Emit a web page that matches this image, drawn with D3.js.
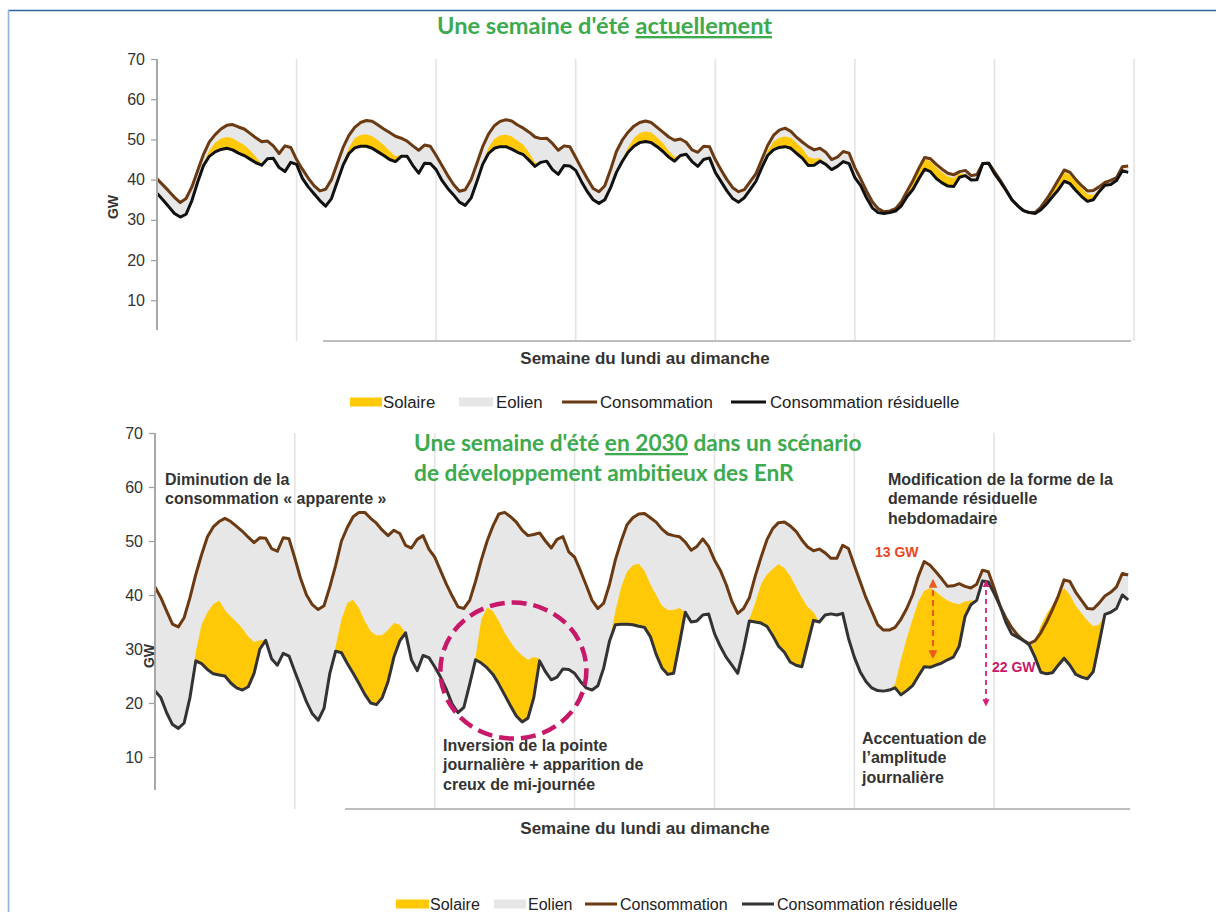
<!DOCTYPE html>
<html><head><meta charset="utf-8">
<script src="https://cdn.jsdelivr.net/npm/d3@7"></script>
<style>body{margin:0;background:#fff}svg{display:block}</style>
</head><body>
<script>
// ---------- DATA (GW, hourly, Monday 0h -> Sunday 23h) ----------
const days = ["Lundi","Mardi","Mercredi","Jeudi","Vendredi","Samedi","Dimanche"];
const yTicks = [10,20,30,40,50,60,70];
const legendLabels = ["Solaire","Eolien","Consommation","Consommation résiduelle"];

// Top chart : une semaine d'été actuellement
const nowConsommation = [
 40.2,38.7,37.2,35.6,34.3,35.3,38.2,42.3,46.3,49.4,51.2,52.6,53.5,53.7,53.1,52.6,51.5,50.4,49.4,49.6,48.4,46.5,48.4,48.0,
 45.0,42.6,40.4,38.5,37.2,37.6,40.0,44.0,48.0,51.0,53.0,54.2,54.7,54.5,53.6,52.6,51.7,50.8,50.3,49.6,48.4,47.3,48.6,48.3,
 46.0,43.5,41.0,38.8,37.1,37.5,40.0,44.0,48.2,51.3,53.4,54.5,54.9,54.6,53.6,52.8,51.8,50.6,50.2,50.3,49.0,47.3,48.4,48.2,
 45.5,42.8,40.2,37.8,37.0,38.5,42.5,47.0,49.8,51.8,53.3,54.2,54.6,54.2,53.0,51.8,50.6,49.8,50.1,49.3,47.4,46.8,48.3,48.2,
 45.0,42.4,40.0,38.0,37.0,37.5,39.5,41.5,45.0,48.5,51.0,52.3,52.8,52.0,50.5,49.3,48.2,47.4,47.8,46.8,45.0,45.6,47.0,46.6,
 43.0,40.2,37.2,34.5,32.8,32.0,32.2,32.8,34.5,37.2,39.8,42.8,45.5,45.2,43.8,42.6,41.6,41.2,42.0,42.3,41.0,41.3,44.0,44.1,
 42.0,39.8,37.5,35.0,33.5,32.3,31.8,31.8,33.2,35.2,37.5,40.0,42.4,41.8,40.0,38.5,37.2,37.3,38.2,39.3,39.8,40.5,43.2,43.4];
const nowResiduelle = [
 36.6,35.0,33.3,31.6,30.7,31.4,34.8,39.4,43.5,45.8,46.9,47.5,47.8,47.4,46.6,46.0,45.1,44.2,43.6,45.2,45.3,43.0,42.0,44.3,
 43.8,40.3,38.2,36.5,34.8,33.4,35.3,39.5,43.6,46.5,47.9,48.3,48.3,47.8,46.9,46.0,45.0,44.5,45.8,45.8,43.5,41.6,44.1,44.0,
 42.5,39.8,37.8,36.2,34.4,33.6,35.4,39.5,43.8,46.5,47.8,48.2,48.2,47.6,46.8,46.2,44.8,43.3,44.3,44.6,42.5,41.3,43.5,43.4,
 42.3,39.5,37.0,35.0,34.1,35.0,38.0,41.8,44.5,46.8,48.3,49.2,49.5,49.2,48.2,47.0,45.6,44.6,46.0,46.3,44.5,43.3,45.0,45.4,
 41.8,39.5,37.2,35.3,34.4,35.5,37.5,39.6,43.0,46.0,47.4,48.0,48.2,47.8,46.5,45.3,43.5,43.6,44.6,43.8,42.5,43.3,44.5,44.0,
 40.5,38.5,35.5,33.0,31.8,31.6,31.8,32.2,33.5,35.8,37.6,40.2,42.6,42.0,40.3,39.2,38.4,38.3,40.6,41.0,39.9,40.0,44.0,44.1,
 41.5,39.5,37.3,35.0,33.5,32.3,31.8,31.6,32.5,34.0,35.8,37.5,39.6,39.0,37.3,35.8,34.6,35.0,37.0,38.6,38.8,39.8,42.2,41.8];
const nowSolaire = [
 0,0,0,0,0,0,0,0,0.5,1.5,2.3,2.7,2.8,2.9,2.8,2.6,2.2,1.4,0.4,0,0,0,0,0,
 0,0,0,0,0,0,0,0,0.5,1.5,2.4,2.8,3.0,3.0,2.9,2.6,2.1,1.3,0.3,0,0,0,0,0,
 0,0,0,0,0,0,0,0,0.5,1.5,2.3,2.8,3.0,3.1,2.9,2.5,1.9,0.9,0,0,0,0,0,0,
 0,0,0,0,0,0,0,0,0.4,1.2,2.0,2.4,2.5,2.5,2.3,2.1,1.6,1.0,0.3,0,0,0,0,0,
 0,0,0,0,0,0,0,0,0.4,1.2,2.0,2.4,2.5,2.6,2.6,2.4,2.1,1.6,0.8,0.2,0,0,0,0,
 0,0,0,0,0,0,0,0,0.3,0.8,1.5,2.0,2.4,2.6,2.7,2.6,2.4,2.1,1.0,0.3,0,0,0,0,
 0,0,0,0,0,0,0,0,0.3,0.8,1.3,1.8,2.1,2.2,2.2,2.0,1.8,1.2,0.5,0,0,0,0,0];

// Bottom chart : une semaine d'été en 2030
const futConsommation = [
 41.5,39.5,37.0,34.6,34.1,35.8,39.5,43.8,47.5,50.8,52.6,53.6,54.2,53.6,52.7,51.8,50.7,49.7,50.6,50.5,48.6,48.1,50.6,50.4,
 46.8,43.0,40.0,38.2,37.3,38.0,41.5,45.5,50.0,52.5,54.5,55.3,55.3,54.2,53.3,52.0,51.0,52.0,51.4,49.2,48.7,50.3,51.0,48.5,
 47.0,44.5,42.0,39.8,37.8,37.5,39.0,42.5,46.5,50.0,52.8,55.0,55.3,54.5,53.5,52.0,51.0,51.2,51.5,50.0,48.7,50.3,50.8,48.0,
 47.0,44.5,41.8,39.0,37.5,38.5,42.0,46.5,50.0,53.0,54.3,55.0,55.1,54.3,53.5,52.2,51.3,51.0,50.8,49.8,48.3,49.0,50.4,49.0,
 46.5,44.6,42.0,38.8,36.6,37.5,39.5,43.5,47.0,50.2,52.3,53.4,53.5,52.8,51.8,50.2,48.9,48.2,48.5,47.8,46.8,46.8,49.2,48.6,
 45.5,42.5,39.5,37.0,34.5,33.5,33.5,34.0,35.5,37.5,40.0,43.5,46.2,45.5,44.3,43.0,41.6,41.7,42.1,41.6,41.3,42.0,44.6,44.3,
 41.3,38.0,35.8,34.0,32.6,31.6,31.0,31.5,33.0,35.0,37.3,39.8,42.8,42.5,40.5,39.0,37.5,37.4,38.5,39.8,40.5,41.5,44.0,43.7];
const futResiduelle = [
 22.2,21.0,18.2,16.0,15.3,16.3,21.0,27.8,27.3,26.2,25.4,25.2,25.0,23.7,22.8,22.4,23.0,25.5,30.0,31.6,28.2,27.0,29.2,28.7,
 25.8,23.0,20.2,18.0,16.8,19.0,25.5,29.6,29.3,27.3,25.5,23.6,21.6,20.0,19.7,21.0,24.0,28.5,31.5,33.0,28.0,26.0,28.8,28.4,
 26.7,24.8,22.5,19.8,18.2,19.2,23.5,28.0,27.4,26.5,25.3,23.5,21.5,19.5,17.6,16.5,17.2,21.0,27.8,25.8,24.3,24.8,26.3,26.2,
 25.5,24.0,22.8,22.4,23.2,26.5,31.5,34.5,34.6,34.6,34.5,34.2,34.0,32.3,29.0,26.5,25.3,25.5,31.0,36.8,35.0,35.2,36.3,36.5,
 32.9,30.5,28.5,27.0,25.5,30.0,35.2,35.0,34.8,34.2,32.5,30.5,29.4,27.6,27.0,26.7,31.0,35.3,35.0,36.3,36.5,36.3,36.6,32.0,
 28.5,25.8,24.0,22.8,22.3,22.2,22.4,22.8,21.5,22.3,23.2,25.0,26.7,26.6,27.0,27.4,28.0,28.5,30.5,36.0,38.2,39.0,42.6,42.4,
 40.3,38.0,35.0,32.8,32.2,31.6,30.8,28.5,25.7,25.4,25.6,27.0,28.3,27.0,25.3,24.8,24.5,25.8,31.0,36.4,36.8,37.5,40.0,39.1];
const futSolaire = [
 0,0,0,0,0,0,0,1.7,7.2,10.6,12.9,13.8,12.2,12.3,12.2,11.4,9.3,5.8,1.6,0,0,0,0,0,
 0,0,0,0,0,0,0,0.9,6.2,11.2,13.6,14.0,13.6,13.3,12.8,11.6,9.5,6.3,3.0,0,0,0,0,0,
 0,0,0,0,0,0,0,0.5,8.1,11.2,11.7,11.7,11.5,11.8,12.2,12.3,10.8,7.5,0.4,0,0,0,0,0,
 0,0,0,0,0,0,0,2.5,6.9,9.7,11.0,11.6,10.5,9.7,11.0,11.5,11.9,11.7,6.6,0,0,0,0,0,
 0,0,0,0,0,0,0.3,3.5,7.2,9.6,12.3,15.2,15.6,15.9,14.5,12.8,6.8,1.5,0,0,0,0,0,0,
 0,0,0,0,0,0,0,0.7,6.5,9.7,12.3,13.8,14.1,14.7,13.6,12.3,11.0,10.0,7.8,2.8,0.8,0,0,0,
 0,0,0,0,0,0,0,2.5,8.6,11.1,12.6,12.8,13.0,13.0,12.7,11.8,10.8,8.4,3.5,0,0,0,0,0];

// ---------- DRAWING ----------
const W = 1216, H = 912;
const FONT = "'Liberation Sans', Arial, Helvetica, sans-serif";
const TFONT = "Lato, 'Open Sans', sans-serif";
const C = {yellow:"#FFC907", grey:"#E7E7E7", brown:"#6B3A12", green:"#3DAA4E"};
const svg = d3.select("body").append("svg").attr("width", W).attr("height", H);

// frame
svg.append("line").attr("x1",8).attr("x2",W).attr("y1",10.5).attr("y2",10.5).attr("stroke","#2C62A3").attr("stroke-width",1.6);
svg.append("line").attr("x1",8.5).attr("x2",8.5).attr("y1",10).attr("y2",H).attr("stroke","#8FB1DB").attr("stroke-width",1.6);

const hours = d3.range(168);

function panel(p) {
  const x = d3.scaleLinear().domain([0,168]).range([p.x0, p.x1]);
  const y = d3.scaleLinear().domain([0,70]).range([p.yZero, p.yTop]);
  const g = svg.append("g");
  g.selectAll("line.grid").data(p.gridDays).join("line").attr("class","grid")
    .attr("x1", d => x(d*24)).attr("x2", d => x(d*24))
    .attr("y1", y(70)).attr("y2", p.gridBottom)
    .attr("stroke", "#E4E4E4").attr("stroke-width", 1.6);
  g.append("line").attr("x1", p.xAxisStart).attr("x2", p.xAxisEnd)
    .attr("y1", p.gridBottom).attr("y2", p.gridBottom)
    .attr("stroke", "#BEBEBE").attr("stroke-width", 2.2);
  // éolien + solaire between résiduelle and consommation
  g.append("path").datum(hours)
    .attr("d", d3.area().x(i => x(i)).y0(i => y(p.res[i])).y1(i => y(p.cons[i])))
    .attr("fill", C.grey);
  // solaire just above résiduelle
  g.append("path").datum(hours)
    .attr("d", d3.area().x(i => x(i)).y0(i => y(p.res[i])).y1(i => y(p.res[i] + p.sol[i])))
    .attr("fill", C.yellow);
  g.append("path").datum(hours)
    .attr("d", d3.line().x(i => x(i)).y(i => y(p.cons[i])))
    .attr("fill","none").attr("stroke", C.brown).attr("stroke-width", p.lw).attr("stroke-linejoin","round");
  g.append("path").datum(hours)
    .attr("d", d3.line().x(i => x(i)).y(i => y(p.res[i])))
    .attr("fill","none").attr("stroke", p.resColor).attr("stroke-width", p.lw).attr("stroke-linejoin","round");
  // y axis
  const ga = g.append("g").attr("transform", `translate(${p.x0},0)`)
    .call(d3.axisLeft(y).tickValues(yTicks).tickSize(6).tickPadding(6));
  ga.select(".domain").remove();
  ga.selectAll(".tick line").attr("stroke", "#9C9C9C").attr("stroke-width", 1.2);
  ga.selectAll(".tick text").attr("font-family", FONT).attr("font-size", 16).attr("fill", "#333");
  g.append("line").attr("x1", p.x0).attr("x2", p.x0).attr("y1", y(70)).attr("y2", p.axisBottom)
    .attr("stroke", "#A8A8A8").attr("stroke-width", 2);
  // GW
  g.append("text").attr("transform", `translate(${p.gwX},${p.gwY}) rotate(-90)`)
    .attr("text-anchor","middle").attr("dominant-baseline","central")
    .attr("font-family", FONT).attr("font-weight","bold").attr("font-size",14).attr("fill","#333").text("GW");
  // x title
  g.append("text").attr("x", p.xTitleX).attr("y", p.xTitleY).attr("text-anchor","middle")
    .attr("font-family", FONT).attr("font-weight","bold").attr("font-size",17).attr("fill","#333")
    .text("Semaine du lundi au dimanche");
  // legend
  const lg = g.append("g").attr("font-family", FONT).attr("font-size", p.legFont).attr("fill","#222");
  const L = p.legend;
  lg.append("rect").attr("x", L[0][0]).attr("y", p.legY-4.5).attr("width", L[0][1]).attr("height", 9).attr("fill", C.yellow);
  lg.append("rect").attr("x", L[1][0]).attr("y", p.legY-4.5).attr("width", L[1][1]).attr("height", 9).attr("fill", "#E6E6E6");
  lg.append("line").attr("x1", L[2][0]).attr("x2", L[2][0]+L[2][1]).attr("y1", p.legY).attr("y2", p.legY).attr("stroke", C.brown).attr("stroke-width", 3);
  lg.append("line").attr("x1", L[3][0]).attr("x2", L[3][0]+L[3][1]).attr("y1", p.legY).attr("y2", p.legY).attr("stroke", p.resColor).attr("stroke-width", 3);
  legendLabels.forEach((t,k) => {
    lg.append("text").attr("x", L[k][2]).attr("y", p.legY).attr("dominant-baseline","central").text(t);
  });
  return {x, y, g};
}

// --- top panel
panel({x0:157, x1:1134, yZero:340.5, yTop:59, gridDays:[1,2,3,4,5,6,7], gridBottom:341,
  xAxisStart:323, xAxisEnd:1131, axisBottom:330,
  cons:nowConsommation, res:nowResiduelle, sol:nowSolaire, resColor:"#111", lw:3,
  gwX:113, gwY:207, xTitleX:645, xTitleY:364,
  legY:402, legFont:16.8,
  legend:[[350,32,383],[459,34,496],[562,35,600],[731,35,770]]});

// --- bottom panel
const B = panel({x0:155, x1:1134, yZero:811, yTop:433, gridDays:[1,2,3,4,5,6], gridBottom:809,
  xAxisStart:345, xAxisEnd:1130, axisBottom:790,
  cons:futConsommation, res:futResiduelle, sol:futSolaire, resColor:"#333", lw:3,
  gwX:149, gwY:656, xTitleX:645, xTitleY:834,
  legY:904, legFont:16,
  legend:[[396,33,430],[494,32,528],[585,32,620],[742,32,777]]});

// ---------- Titles ----------
function title(x, y, size, parts) {
  const t = svg.append("text").attr("x", x).attr("y", y)
    .attr("font-family", TFONT).attr("font-weight","bold").attr("font-size", size).attr("fill", C.green);
  parts.forEach(([s,u]) => t.append("tspan").text(s).style("text-decoration", u ? "underline" : "none"));
}
title(437, 34, 23.6, [["Une semaine d'été ",false],["actuellement",true]]);
title(414, 451, 22.7, [["Une semaine d'été ",false],["en 2030",true],[" dans un scénario",false]]);
title(414, 481, 22.7, [["de développement ambitieux des EnR",false]]);

// ---------- Annotations (bottom) ----------
function note(x, y, lines, color, size) {
  const t = svg.append("text").attr("font-family", FONT).attr("font-weight","bold")
    .attr("font-size", size || 16).attr("fill", color || "#333");
  lines.forEach((s,k) => t.append("tspan").attr("x", x).attr("y", y + k*19.3).text(s));
}
note(165, 485, ["Diminution de la", "consommation « apparente »"]);
note(888, 485, ["Modification de la forme de la", "demande résiduelle", "hebdomadaire"]);
note(443, 751, ["Inversion de la pointe", "journalière + apparition de", "creux de mi-journée"]);
note(862, 744, ["Accentuation de", "l’amplitude", "journalière"]);
note(875, 557, ["13 GW"], "#E8461E", 14);
note(992, 672, ["22 GW"], "#C8176B", 14);

// dashed circle (Wednesday)
svg.append("ellipse").attr("cx", B.x(61.5)).attr("cy", B.y(26)).attr("rx", 73).attr("ry", 68)
  .attr("fill","none").attr("stroke","#C8186A").attr("stroke-width",4.5).attr("stroke-dasharray","15 7");

// double arrows
const defs = svg.append("defs");
function marker(id, color) {
  defs.append("marker").attr("id", id).attr("viewBox","0 0 10 10").attr("refX",9).attr("refY",5)
    .attr("markerWidth",4).attr("markerHeight",4).attr("orient","auto-start-reverse")
    .append("path").attr("d","M0,0 L10,5 L0,10 z").attr("fill", color);
}
marker("ao", "#EE5A1E"); marker("am", "#D0207A");
svg.append("line").attr("x1", B.x(133.5)).attr("x2", B.x(133.5)).attr("y1", B.y(42.8)).attr("y2", B.y(28.3))
  .attr("stroke","#EE5A1E").attr("stroke-width",2.2).attr("stroke-dasharray","6 4")
  .attr("marker-start","url(#ao)").attr("marker-end","url(#ao)");
svg.append("line").attr("x1", B.x(142.6)).attr("x2", B.x(142.6)).attr("y1", B.y(42.6)).attr("y2", B.y(19.5))
  .attr("stroke","#D0207A").attr("stroke-width",1.8).attr("stroke-dasharray","5 4")
  .attr("marker-start","url(#am)").attr("marker-end","url(#am)");
</script>
</body></html>
